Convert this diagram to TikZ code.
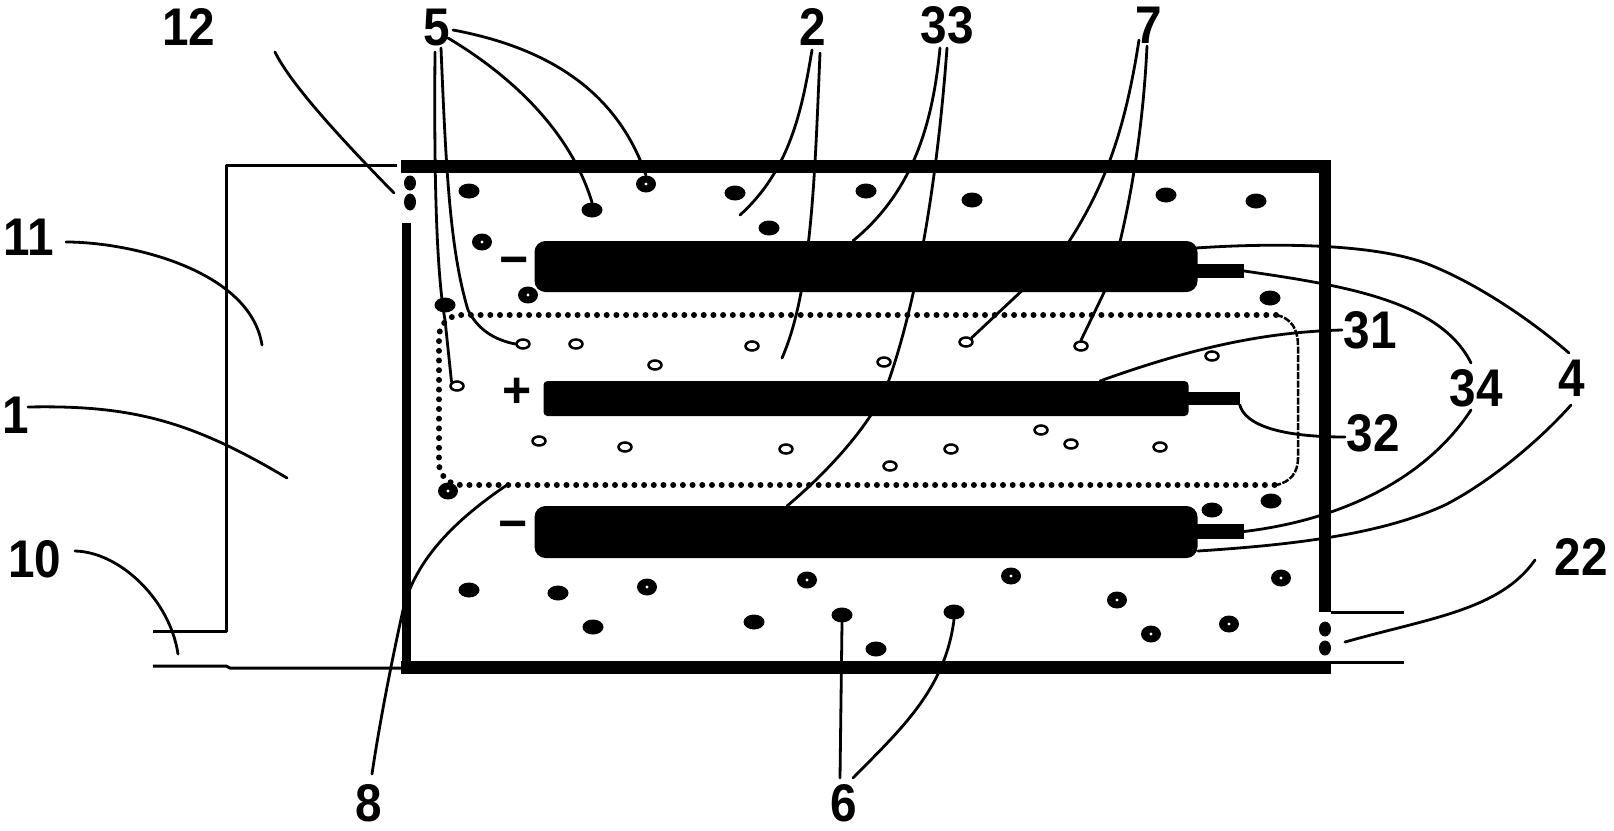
\documentclass[tikz,border=0pt]{standalone}
\usepackage{graphicx}
\usepackage{fontspec}
\setmainfont{Liberation Sans}
\usetikzlibrary{shapes.geometric}
\newcommand\dgt[1]{\scalebox{.9}[1]{#1}}
\tikzset{
  x=1pt,y=-1pt,
  lab/.style={inner sep=0pt,font=\fontsize{53}{53}\selectfont\bfseries},
  sign/.style={inner sep=0pt,font=\fontsize{50}{50}\selectfont\bfseries},
  wall/.style={fill=black,draw=none},
  thin line/.style={line width=3pt,line join=round},
  leader/.style={line width=2.8pt,line cap=round},
  body/.style={fill=black,draw=none,rounded corners=11pt,inner sep=0pt},
  tabbox/.style={fill=black,draw=none,inner sep=0pt},
  solid p/.style={ellipse,fill=black,draw=none,inner sep=0pt,minimum width=21pt,minimum height=15pt},
  ring p/.style={ellipse,fill=black,draw=none,inner sep=0pt,minimum width=20pt,minimum height=17pt,
     path picture={\fill[white] (path picture bounding box.center) ellipse (1.6pt and 1.6pt);}},
  open p/.style={ellipse,fill=white,draw=black,line width=2.5pt,inner sep=0pt,minimum width=13pt,minimum height=9pt},
  gate/.style={ellipse,fill=black,draw=none,inner sep=0pt,minimum width=12pt,minimum height=15pt},
  sep dots/.style={line width=6pt,line cap=round,dash pattern=on 0pt off 9.7pt},
  sep thin/.style={line width=2.5pt,dash pattern=on 7pt off 1.5pt},
}
\begin{document}
\begin{tikzpicture}
\useasboundingbox (0,0) rectangle (1614,830);
% outer housing
\draw[thin line] (153,631) -- (226,631) -- (226,165) -- (397,165);
\draw[thin line] (153,666) -- (226,666) -- (230,668) -- (403,668);
\draw[thin line] (1331,612) -- (1404,612);
\draw[thin line] (1331,662) -- (1404,662);
\fill[wall] (401,160) rectangle (1331,173);
\fill[wall] (1319,160) rectangle (1331,612);
\fill[wall] (401,661) rectangle (1331,674);
\fill[wall] (402,223) rectangle (411,665);
% gates
\node[gate] (g1) at (410,183) {};
\node[gate,minimum height=17pt] (g2) at (410,202) {};
\node[gate] (g3) at (1325,629) {};
\node[gate] (g4) at (1325,648) {};
% separator
\draw[sep dots,rounded corners=22pt] (1276,315) -- (439,315) -- (439,485) -- (1276,485);
\draw[sep thin] (1276,315) .. controls (1292,318) and (1298,330) .. (1298,346) -- (1298,458) .. controls (1298,472) and (1291,482) .. (1276,485);
% electrodes
\node[body,minimum width=663pt,minimum height=51pt] (an1) at (866,266.5) {};
\node[tabbox,minimum width=52pt,minimum height=14pt] (tab1) at (1218,271) {};
\node[body,rounded corners=4pt,minimum width=645pt,minimum height=35pt] (cat) at (866,398.5) {};
\node[tabbox,minimum width=55pt,minimum height=13pt] (tab2) at (1212,398) {};
\node[body,minimum width=663pt,minimum height=52pt] (an2) at (866,532) {};
\node[tabbox,minimum width=52pt,minimum height=15pt] (tab3) at (1218,531.5) {};
% signs
\node[sign] (m1) at (514,267) {−};
\node[sign] (pl) at (517,393) {+};
\node[sign] (m2) at (513,531) {−};
% particles, solid
\foreach \n/\px/\py in {a1/469/191,a2/592/210,a3/735/193,a4/769/228,a5/866/191,a6/972/200,a7/1166/195,a8/1256/201,a9/1270/298,a10/445/305,a11/469/590,a12/558/593,a13/593/627,a14/754/622,a15/842/615,a16/954/612,a17/876/649,a18/1212/510,a19/1271/501}
  \node[solid p] (\n) at (\px,\py) {};
\foreach \n/\px/\py in {b1/646/184,b2/482/242,b3/528/295,b4/448/491,b5/647/587,b6/807/580,b7/1011/576,b8/1281/578,b9/1117/600,b10/1151/634,b11/1229/624}
  \node[ring p] (\n) at (\px,\py) {};
\foreach \n/\px/\py in {c1/523/344,c2/576/344,c3/752/346,c4/655/365,c5/457/386,c6/966/342,c7/1081/346,c8/884/362,c9/1212/356,c10/539/441,c11/625/447,c12/786/449,c13/1041/430,c14/1071/444,c15/1160/447,c16/951/449,c17/890/466}
  \node[open p] (\n) at (\px,\py) {};
% labels
\node[lab] (l12) at (189,27) {\dgt{12}};
\node[lab] (l5) at (437,28) {\dgt{5}};
\node[lab] (l2) at (813,27) {\dgt{2}};
\node[lab] (l33) at (947,25) {\dgt{33}};
\node[lab] (l7) at (1149,25) {\dgt{7}};
\node[lab] (l11) at (29,237) {\dgt{11}};
\node[lab] (l1) at (16,415) {\dgt{1}};
\node[lab] (l10) at (35,559) {\dgt{10}};
\node[lab] (l8) at (369,803) {\dgt{8}};
\node[lab] (l6) at (844,803) {\dgt{6}};
\node[lab] (l31) at (1370,330) {\dgt{31}};
\node[lab] (l32) at (1373,433) {\dgt{32}};
\node[lab] (l34) at (1476,388) {\dgt{34}};
\node[lab] (l4) at (1572,378) {\dgt{4}};
\node[lab] (l22) at (1581,557) {\dgt{22}};
% free ends
\coordinate (e12a) at (275,52); \coordinate (e12b) at (394,193);
\coordinate (e11a) at (66,242); \coordinate (e11b) at (262,345);
\coordinate (e1a) at (28,407); \coordinate (e1b) at (287,478);
\coordinate (e10a) at (75,551); \coordinate (e10b) at (178,654);
\coordinate (e8a) at (372,774); \coordinate (e8b) at (507,485);
\coordinate (s5a) at (453,30); \coordinate (s5b) at (448,38); \coordinate (s5c) at (435,52); \coordinate (s5d) at (441,48);
\coordinate (s2a) at (812,50); \coordinate (s2b) at (820,53); \coordinate (e2a) at (740,215); \coordinate (e2b) at (782,358);
\coordinate (s33a) at (940,48); \coordinate (s33b) at (947,48); \coordinate (e33b) at (787,506);
\coordinate (s7a) at (1139,40); \coordinate (s7b) at (1147,46);
\coordinate (s4a) at (1196,248); \coordinate (e4a) at (1569,353);
\coordinate (e34a) at (1471,363);
\coordinate (s31) at (1342,330); \coordinate (e31) at (1100,381);
\coordinate (e32) at (1345,437);
\coordinate (e34b) at (1471,410);
\coordinate (s4b) at (1198,551); \coordinate (e4b) at (1571,405);
\coordinate (s22) at (1345,642); \coordinate (e22) at (1535,560);
\coordinate (s6a) at (840,778); \coordinate (s6b) at (853,778);
% leaders
\draw[leader] (e12a) .. controls (291,85) and (345,143) .. (e12b);
\draw[leader] (e11a) .. controls (130,242) and (250,270) .. (e11b);
\draw[leader] (e1a) .. controls (130,405) and (190,420) .. (e1b);
\draw[leader] (e10a) .. controls (120,552) and (170,600) .. (e10b);
\draw[leader] (e8b) .. controls (455,520) and (415,560) .. (403,610) .. controls (392,660) and (380,720) .. (e8a);
\draw[leader] (s5a) .. controls (560,50) and (620,100) .. (b1.north);
\draw[leader] (s5b) .. controls (510,75) and (570,130) .. (a2.north);
\draw[leader] (s5c) .. controls (434,170) and (436,270) .. (445,320) -- (c5.north west);
\draw[leader] (s5d) .. controls (446,170) and (450,250) .. (468,310) .. controls (478,330) and (495,340) .. (c1.west);
\draw[leader] (s2a) .. controls (802,110) and (790,170) .. (e2a);
\draw[leader] (s2b) .. controls (815,170) and (812,290) .. (e2b);
\draw[leader] (s33a) .. controls (933,120) and (915,190) .. (an1.north -| 853,0);
\draw[leader] (s33b) .. controls (938,170) and (920,290) .. (889,380) .. controls (875,420) and (830,470) .. (e33b);
\draw[leader] (s7a) .. controls (1125,130) and (1105,190) .. (1060,255) -- (c6.north east);
\draw[leader] (s7b) .. controls (1143,130) and (1130,210) .. (1110,280) -- (c7.north);
\draw[leader] (s4a) .. controls (1270,243) and (1370,243) .. (1425,263) .. controls (1470,280) and (1525,315) .. (e4a);
\draw[leader] (tab1.east) .. controls (1340,285) and (1440,300) .. (e34a);
\draw[leader] (s31) .. controls (1270,332) and (1200,345) .. (e31);
\draw[leader] (tab2.south east) .. controls (1245,425) and (1280,437) .. (e32);
\draw[leader] (tab3.east) .. controls (1340,520) and (1425,480) .. (e34b);
\draw[leader] (s4b) .. controls (1290,545) and (1380,535) .. (1445,505) .. controls (1490,482) and (1540,440) .. (e4b);
\draw[leader] (s22) .. controls (1430,618) and (1500,610) .. (e22);
\draw[leader] (s6a) -- (a15.south);
\draw[leader] (s6b) .. controls (900,730) and (945,690) .. (a16.south);
\end{tikzpicture}
\end{document}
